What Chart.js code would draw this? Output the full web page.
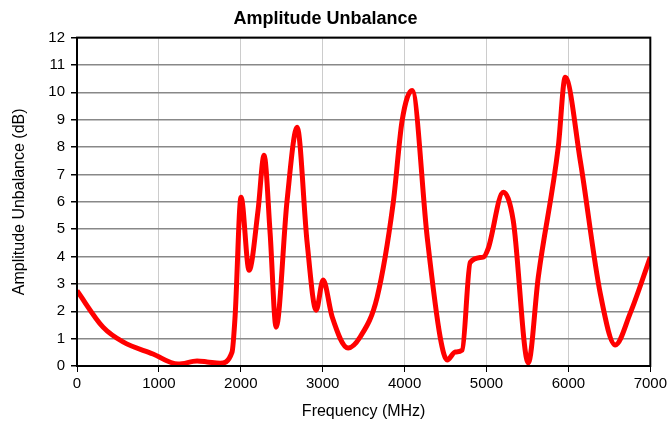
<!DOCTYPE html>
<html>
<head>
<meta charset="utf-8">
<script src="https://cdn.jsdelivr.net/npm/chart.js@4/dist/chart.umd.min.js"></script>
<style>
  html, body { margin: 0; padding: 0; background: #fff; }
  #wrap { width: 670px; height: 432px; }
</style>
</head>
<body>
<div id="wrap"><canvas id="chart"></canvas></div>
<script>
const freqs = [0, 318, 562, 928, 1234, 1466, 1588, 1747, 1893, 1930, 2003, 2101, 2211, 2284, 2358, 2431, 2565, 2688, 2810, 2920, 3005, 3115, 3310, 3457, 3665, 3860, 3970, 4092, 4276, 4434, 4520, 4618, 4703, 4801, 4960, 5021, 5204, 5326, 5510, 5632, 5876, 5961, 6145, 6389, 6572, 6755, 7000];
const unbalance = [2.75, 1.42, 0.88, 0.44, 0.07, 0.18, 0.15, 0.1, 0.51, 1.8, 6.17, 3.5, 5.7, 7.7, 4.85, 1.42, 6.05, 8.72, 4.5, 2.04, 3.14, 1.8, 0.66, 1.06, 2.52, 5.94, 8.97, 10.07, 4.7, 1.06, 0.22, 0.51, 0.58, 3.79, 3.98, 4.3, 6.35, 5.32, 0.11, 3.25, 8.0, 10.55, 7.5, 2.65, 0.77, 1.93, 3.98];

const points = freqs.map((f, i) => ({ x: f, y: unbalance[i] }));

const frame = {
    id: "frame",
    afterDraw(chart) {
        const a = chart.chartArea;
        const ctx = chart.ctx;
        ctx.save();
        ctx.strokeStyle = "#000";
        ctx.lineWidth = 2;
        ctx.strokeRect(a.left, a.top, a.right - a.left, a.bottom - a.top);
        ctx.restore();
    }
};

new Chart(document.getElementById("chart"), {
    type: "line",
    data: {
        datasets: [{
            data: points,
            borderColor: "#ff0000",
            borderWidth: 5,
            pointRadius: 0,
            fill: false,
            cubicInterpolationMode: "monotone"
        }]
    },
    options: {
        responsive: true,
        maintainAspectRatio: false,
        animation: false,
        layout: { padding: { left: 0, right: 19, top: 0, bottom: 0 } },
        plugins: {
            legend: { display: false },
            tooltip: { enabled: false },
            title: {
                display: true,
                text: "Amplitude Unbalance",
                color: "#000",
                font: { family: "Arial, 'Liberation Sans'", size: 18, weight: "bold" },
                padding: { top: 8, bottom: 8 }
            }
        },
        scales: {
            x: {
                type: "linear",
                min: 0,
                max: 7000,
                afterFit: s => { s.height = 66; },
                ticks: {
                    stepSize: 1000,
                    color: "#000",
                    padding: 3,
                    maxRotation: 0,
                    callback: v => String(v),
                    font: { family: "Arial, 'Liberation Sans'", size: 15 }
                },
                grid: { color: "#cccccc", lineWidth: 1, tickColor: "#000", tickLength: 6 },
                border: { color: "#000", width: 2 },
                title: {
                    display: true,
                    text: "Frequency (MHz)",
                    color: "#000",
                    font: { family: "Arial, 'Liberation Sans'", size: 16 },
                    padding: { top: 0, bottom: 11 }
                }
            },
            y: {
                min: 0,
                max: 12,
                afterFit: s => { s.width = 77; },
                ticks: {
                    stepSize: 1,
                    color: "#000",
                    padding: 6,
                    font: { family: "Arial, 'Liberation Sans'", size: 15 }
                },
                grid: { color: "#888888", lineWidth: 1.5, tickColor: "#000", tickLength: 6 },
                border: { color: "#000", width: 2 },
                title: {
                    display: true,
                    text: "Amplitude Unbalance (dB)",
                    color: "#000",
                    font: { family: "Arial, 'Liberation Sans'", size: 16 },
                    padding: { top: 10, bottom: 0 }
                }
            }
        }
    },
    plugins: [frame]
});
</script>
</body>
</html>
